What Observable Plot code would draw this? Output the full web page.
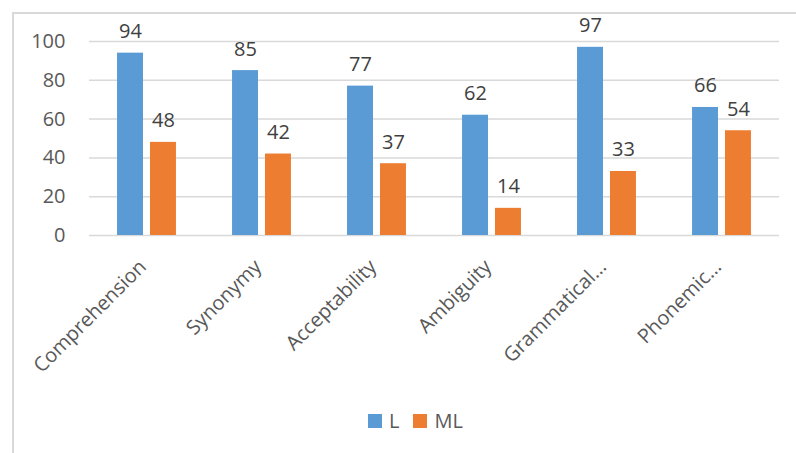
<!DOCTYPE html>
<html>
<head>
<meta charset="utf-8">
<script src="https://cdn.jsdelivr.net/npm/d3@7"></script>
<script src="https://cdn.jsdelivr.net/npm/@observablehq/plot@0.6"></script>
<style>
  html, body { margin: 0; padding: 0; background: #fff; }
  #frame {
    position: relative; width: 796px; height: 453px; overflow: hidden;
    font-family: "Open Sans", "Noto Sans", sans-serif;
  }
  #border {
    position: absolute; left: 12px; top: 12px; width: 900px; height: 600px;
    border-left: 2px solid #d9d9d9; border-top: 2px solid #d9d9d9;
    box-sizing: border-box;
  }
  #chart { position: absolute; left: 0; top: 0; }
  #legend {
    position: absolute; left: 368px; top: 408px; display: flex; align-items: center;
    font-size: 20px; color: #595959; line-height: 26px;
  }
  #legend .sw { width: 14px; height: 14px; display: inline-block; margin-right: 7px; }
  #legend .item { display: flex; align-items: center; margin-right: 14px; }
</style>
</head>
<body>
<div id="frame">
  <div id="border"></div>
  <div id="chart"></div>
  <div id="legend"></div>
</div>
<script>
// Scores per task for the two groups
const categories = ["Comprehension", "Synonymy", "Acceptability", "Ambiguity", "Grammatical…", "Phonemic…"];
const seriesNames = ["L", "ML"];
const valuesL = [94, 85, 77, 62, 97, 66];
const valuesML = [48, 42, 37, 14, 33, 54];
const yTicks = [0, 20, 40, 60, 80, 100];
const colors = ["#5B9BD5", "#ED7D31"];

const rows = categories.flatMap((c, i) => [
  {category: c, series: "L", value: valuesL[i]},
  {category: c, series: "ML", value: valuesML[i]}
]);

const chart = Plot.plot({
  width: 796,
  height: 400,
  marginLeft: 88,
  marginRight: 17,
  marginTop: 41,
  marginBottom: 165,
  style: {fontFamily: "'Open Sans', 'Noto Sans', sans-serif", fontSize: "20px", color: "#595959", background: "transparent"},
  fx: {domain: categories, padding: 0, label: null},
  x: {domain: seriesNames, paddingInner: 0.212, paddingOuter: 0.851, round: false, axis: null},
  y: {domain: [0, 100], label: null},
  color: {domain: seriesNames, range: colors},
  marks: [
    Plot.gridY(yTicks, {stroke: "#d9d9d9", strokeOpacity: 1, strokeWidth: 1.5}),
    Plot.axisY(yTicks, {tickSize: 0, tickPadding: 24, fill: "#595959", fontSize: 20, label: null}),
    Plot.axisFx({anchor: "bottom", tickSize: 0, tickRotate: -45, tickPadding: 24, dx: -4, dy: 4,
      fill: "#595959", fontSize: 20, label: null}),
    Plot.barY(rows, {fx: "category", x: "series", y: "value", fill: "series"}),
    Plot.text(rows, {fx: "category", x: "series", y: "value", text: d => String(d.value),
      lineAnchor: "bottom", dy: -15, fill: "#404040", fontSize: 20})
  ]
});
document.getElementById("chart").appendChild(chart);

// Legend below the plot
const legend = document.getElementById("legend");
seriesNames.forEach((name, i) => {
  const item = document.createElement("span");
  item.className = "item";
  const sw = document.createElement("span");
  sw.className = "sw";
  sw.style.background = colors[i];
  item.appendChild(sw);
  item.appendChild(document.createTextNode(name));
  legend.appendChild(item);
});
</script>
</body>
</html>
